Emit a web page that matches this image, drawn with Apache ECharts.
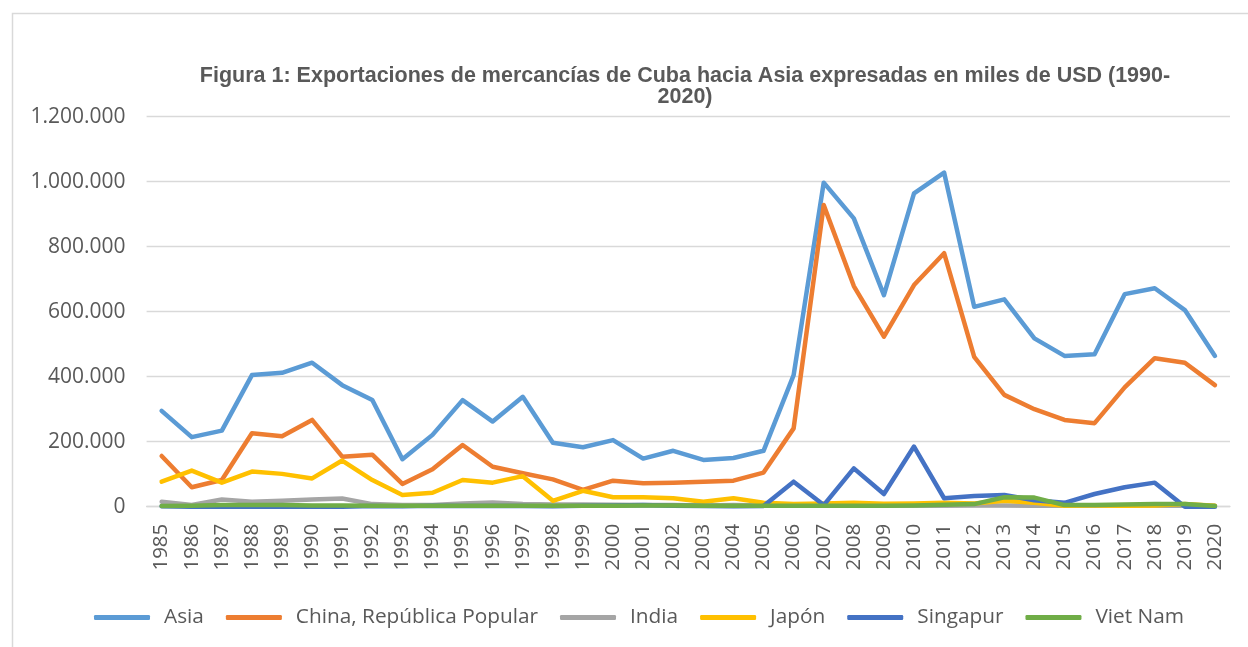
<!DOCTYPE html>
<html>
<head>
<meta charset="utf-8">
<script src="https://cdn.jsdelivr.net/npm/echarts@6/dist/echarts.min.js"></script>
<style>
  html, body { margin: 0; padding: 0; background: #fff; }
  #chart { width: 1248px; height: 647px; }
</style>
</head>
<body>
<div id="chart"></div>
<script>
// exportaciones en miles de USD
const years = ['1985','1986','1987','1988','1989','1990','1991','1992','1993','1994','1995','1996',
  '1997','1998','1999','2000','2001','2002','2003','2004','2005','2006','2007','2008',
  '2009','2010','2011','2012','2013','2014','2015','2016','2017','2018','2019','2020'];

const asia = [295000, 214000, 234000, 405000, 412000, 443000, 374000, 328000, 146000, 221000, 328000, 262000,
  338000, 197000, 183000, 205000, 148000, 172000, 144000, 150000, 172000, 405000, 997000, 887000,
  651000, 964000, 1028000, 615000, 638000, 518000, 464000, 469000, 654000, 672000, 605000, 464000];

const china = [156000, 60000, 82000, 226000, 217000, 267000, 154000, 160000, 70000, 115000, 190000, 123000,
  103000, 84000, 52000, 80000, 72000, 74000, 77000, 80000, 105000, 241000, 928000, 679000,
  523000, 682000, 780000, 461000, 344000, 300000, 267000, 257000, 367000, 457000, 443000, 374000];

const india = [15000, 5000, 22000, 15000, 18000, 22000, 25000, 8000, 5000, 5000, 10000, 13000,
  8000, 7000, 7000, 6000, 5000, 5000, 4000, 5000, 4000, 4000, 3000, 3000,
  3000, 3000, 3000, 4000, 4000, 3000, 3000, 3000, 3000, 3000, 3000, 3000];

const japon = [77000, 111000, 74000, 108000, 101000, 87000, 142000, 82000, 36000, 43000, 82000, 74000,
  94000, 18000, 49000, 29000, 29000, 26000, 15000, 26000, 12000, 8000, 10000, 12000,
  9000, 10000, 12000, 10000, 18000, 12000, 3000, 4000, 3000, 4000, 8000, 3000];

const singapur = [1000, 0, 0, 0, 0, 0, 0, 2000, 1000, 3000, 2000, 2000,
  2000, 1000, 3000, 4000, 5000, 3000, 2000, 1000, 2000, 77000, 5000, 118000,
  39000, 185000, 26000, 33000, 36000, 20000, 12000, 39000, 60000, 74000, 0, 0];

const vietnam = [2000, 3000, 5000, 5000, 5000, 4000, 4000, 3000, 3000, 3000, 3000, 3000,
  3000, 3000, 3000, 3000, 4000, 4000, 3000, 3000, 3000, 3000, 3000, 3000,
  3000, 4000, 6000, 8000, 29000, 28000, 5000, 5000, 7000, 8000, 8000, 2000];

const seriesList = [
  { name: 'Asia', data: asia, color: '#5B9BD5' },
  { name: 'China, República Popular', data: china, color: '#ED7D31' },
  { name: 'India', data: india, color: '#A5A5A5' },
  { name: 'Japón', data: japon, color: '#FFC000' },
  { name: 'Singapur', data: singapur, color: '#4472C4' },
  { name: 'Viet Nam', data: vietnam, color: '#70AD47' }
];

const fmt = (v) => String(v).replace(/\B(?=(\d{3})+(?!\d))/g, '.');

const chart = echarts.init(document.getElementById('chart'));
chart.setOption({
  animation: false,
  textStyle: { fontFamily: 'Open Sans' },
  graphic: [
    {
      type: 'rect',
      shape: { x: 12.5, y: 13.5, width: 1300, height: 700 },
      style: { fill: 'none', stroke: '#d9d9d9', lineWidth: 1.5 },
      silent: true
    }
  ],
  title: {
    text: 'Figura 1: Exportaciones de mercancías de Cuba hacia Asia expresadas en miles de USD (1990-\n2020)',
    left: 680,
    top: 61,
    textAlign: 'center',
    textStyle: {
      fontFamily: 'Liberation Sans',
      fontWeight: 'bold',
      fontSize: 21.5,
      lineHeight: 21,
      color: '#595959'
    }
  },
  legend: {
    left: 89,
    top: 602,
    itemWidth: 56,
    itemHeight: 5,
    itemGap: 22,
    icon: 'roundRect',
    textStyle: { fontSize: 20.8, color: '#595959', padding: [0, 0, 0, 9] },
    data: seriesList.map(s => s.name)
  },
  grid: { left: 146.6, right: 18, top: 116.7, bottom: 140.3, containLabel: false },
  xAxis: {
    type: 'category',
    data: years,
    boundaryGap: true,
    axisLine: { lineStyle: { color: '#d9d9d9', width: 1.3 } },
    axisTick: { show: false },
    axisLabel: { rotate: 90, fontSize: 20.5, color: '#595959', margin: 17, interval: 0 }
  },
  yAxis: {
    type: 'value',
    min: 0,
    max: 1200000,
    interval: 200000,
    axisLine: { show: false },
    axisTick: { show: false },
    splitLine: { lineStyle: { color: '#d9d9d9', width: 1.3 } },
    axisLabel: { fontSize: 21, color: '#595959', margin: 21, formatter: fmt }
  },
  series: seriesList.map(s => ({
    name: s.name,
    type: 'line',
    data: s.data,
    color: s.color,
    symbol: 'none',
    lineStyle: { width: 4.5, color: s.color, cap: 'round', join: 'round' }
  }))
});
</script>
</body>
</html>
